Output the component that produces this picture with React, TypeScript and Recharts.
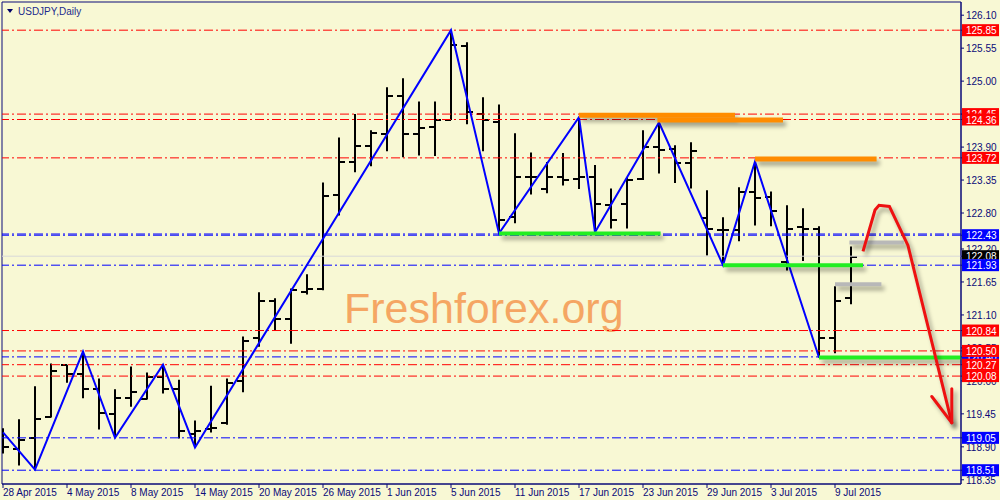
import {
  ComposedChart,
  Bar,
  Line,
  XAxis,
  YAxis,
  ReferenceLine,
  ReferenceArea,
  Customized,
} from "recharts";

// daily USDJPY bars, 28 Apr 2015 .. 10 Jul 2015 (index = trading day)
const opens = [
  119.14, 118.87, 119.04, 119.39, 120.26, 120.12, 119.86, 119.44, 119.72, 119.69,
  120.07, 119.87, 119.12, 119.19, 119.29, 119.99, 120.71, 121.33, 121.04, 121.49,
  121.54, 123.1, 123.65, 123.91, 124.11, 124.75, 124.11, 124.23, 124.36, 125.58,
  124.46, 124.31, 122.73, 123.4, 123.2, 123.4, 123.36, 123.4, 122.93, 122.95,
  123.36, 123.9, 123.86, 123.63, 122.71, 122.51, 122.51, 123.15, 123.06, 121.98,
  122.56, 122.53, 120.71, 121.38,
];
const highs = [
  119.21, 119.36, 119.91, 120.29, 120.27, 120.49, 120.04, 119.86, 120.24, 120.14,
  120.27, 120.02, 119.34, 119.92, 120.04, 120.74, 121.48, 121.38, 121.54, 121.78,
  123.31, 124.06, 124.45, 124.18, 124.9, 125.05, 124.66, 124.66, 125.85, 125.65,
  124.73, 124.61, 124.13, 123.81, 123.65, 123.8, 124.4, 123.6, 123.21, 123.4,
  124.18, 124.31, 123.93, 123.98, 123.18, 122.73, 123.23, 123.66, 123.16, 122.93,
  122.88, 122.58, 121.58, 122.24,
];
const lows = [
  118.79, 118.59, 118.52, 119.39, 119.97, 119.71, 119.19, 119.05, 119.57, 119.69,
  119.79, 119.04, 118.89, 119.14, 119.27, 119.81, 120.57, 120.84, 120.62, 121.44,
  121.51, 122.76, 123.48, 123.58, 123.83, 123.73, 123.76, 123.75, 124.35, 124.28,
  123.83, 122.46, 122.63, 123.11, 123.13, 123.26, 123.2, 122.48, 122.54, 122.54,
  123.35, 123.46, 123.3, 123.21, 122.09, 121.93, 122.33, 122.59, 122.58, 121.84,
  122.0, 120.39, 120.46, 121.28,
];
const closes = [
  118.89, 119.02, 119.36, 120.16, 120.12, 119.86, 119.47, 119.72, 119.81, 120.06,
  119.87, 119.17, 119.16, 119.22, 119.96, 120.67, 121.33, 121.03, 121.51, 121.54,
  123.08, 123.65, 123.91, 124.13, 124.76, 124.11, 124.21, 124.36, 125.6, 124.48,
  124.35, 122.69, 123.4, 123.4, 123.4, 123.35, 123.4, 122.95, 122.68, 123.35,
  123.9, 123.85, 123.63, 123.83, 122.54, 122.51, 123.15, 123.05, 122.83, 122.54,
  122.54, 120.71, 121.33, 122.06,
];

const dateLabels = [
  "28 Apr 2015", "4 May 2015", "8 May 2015", "14 May 2015", "20 May 2015",
  "26 May 2015", "1 Jun 2015", "5 Jun 2015", "11 Jun 2015", "17 Jun 2015",
  "23 Jun 2015", "29 Jun 2015", "3 Jul 2015", "9 Jul 2015",
];
const dateTickIdx = [0, 4, 8, 12, 16, 20, 24, 28, 32, 36, 40, 44, 48, 52];

const priceTicks = [
  126.1, 125.55, 125.0, 124.45, 123.9, 123.35, 122.8, 122.2, 121.65, 121.1,
  120.55, 120.0, 119.45, 118.9, 118.35,
];

// zigzag swing points
const zigIdx = [0, 2, 5, 7, 10, 12, 28, 31, 36, 37, 41, 45, 47, 51];
const zigPrice = [
  119.14, 118.52, 120.49, 119.05, 120.27, 118.89, 125.85, 122.46, 124.4, 122.48,
  124.31, 121.93, 123.66, 120.39,
];

// horizontal levels
const redLevels = [125.85, 124.45, 124.36, 123.72, 120.84, 120.5, 120.27, 120.08];
const blueLevels = [122.45, 122.43, 121.93, 120.4, 119.05, 118.51];
const greyLevel = 122.08;

// price tags on the axis (drawn after the plain tick labels)
const tagPrices = [
  124.45, 124.36, 125.85, 123.72, 122.43, 122.08, 121.93, 120.84, 120.4, 120.5,
  120.27, 120.08, 119.05, 118.51,
];
const tagColors = [
  "#FF0000", "#FF0000", "#FF0000", "#FF0000", "#0000FF", "#000000", "#0000FF",
  "#FF0000", "#0000FF", "#FF0000", "#FF0000", "#FF0000", "#0000FF", "#0000FF",
];

// drawn segments: [from index, to index, price]
const orangeSegs = [
  [36, 45.75, 124.43],
  [40.9, 48.75, 124.35],
  [47, 54.6, 123.7],
];
const greenSegs = [
  [31, 41.1, 122.46],
  [45, 53.75, 121.93],
  [51, 59.875, 120.39],
];
const greySegs = [
  [52.9, 56.3, 122.31],
  [52, 54.9, 121.61],
];

// hand drawn arrow
const arrowIdx = [53.75, 54.5, 54.75, 55.4, 56.56, 59.3];
const arrowPrice = [122.16, 122.85, 122.93, 122.91, 122.26, 119.3];
const wingA = [[58.05, 119.74], [59.3, 119.3]];
const wingB = [[59.3, 119.87], [59.3, 119.3]];

const X_DOMAIN = [-0.0625, 59.875];
const Y_DOMAIN = [118.28, 126.32];
const NAVY = "#0A0A78";
const FONT = "'Liberation Sans', Arial, sans-serif";
const DASHDOT = "9 3 2 3";

const bars = opens.map((o, i) => ({ x: i, o, h: highs[i], l: lows[i], c: closes[i] }));
const zigData = zigIdx.map((x, i) => ({ x, p: zigPrice[i] }));
const arrowData = arrowIdx.map((x, i) => ({ x, p: arrowPrice[i] }));
const axisTicks = [...priceTicks, ...tagPrices];

const OhlcShape = (props: any) => {
  const { x, y, width, height, payload } = props;
  const top = Math.min(y, y + height);
  const h = Math.abs(height);
  const cx = Math.round(x + width / 2);
  const range = payload.h - payload.l || 1;
  const yo = Math.round(top + ((payload.h - payload.o) / range) * h);
  const yc = Math.round(top + ((payload.h - payload.c) / range) * h);
  return (
    <g stroke="#000" strokeWidth={2}>
      <line x1={cx} x2={cx} y1={top} y2={top + h} />
      <line x1={cx - 6} x2={cx} y1={yo} y2={yo} />
      <line x1={cx} x2={cx + 6} y1={yc} y2={yc} />
    </g>
  );
};

const DateTick = (props: any) => {
  const { x, y, payload } = props;
  const k = dateTickIdx.indexOf(payload.value);
  return (
    <text x={x} y={y + 6} textAnchor="start" fill={NAVY} fontSize={10} fontFamily={FONT}>
      {k >= 0 ? dateLabels[k] : ""}
    </text>
  );
};

const PriceTick = (props: any) => {
  const { x, y, payload, index } = props;
  const v = Number(payload.value);
  const t = index - priceTicks.length;
  if (t >= 0) {
    const left = x - 4;
    return (
      <g>
        <rect x={left} y={y - 6} width={37} height={12} fill={tagColors[t]} />
        <text x={left + 4} y={y + 4} fill="#fff" fontSize={10} fontFamily={FONT}>
          {v.toFixed(2)}
        </text>
      </g>
    );
  }
  return (
    <text x={x} y={y + 4} textAnchor="start" fill={NAVY} fontSize={10} fontFamily={FONT}>
      {v.toFixed(2)}
    </text>
  );
};

const Overlay = () => (
  <g>
    <path d="M7 9 L13 9 L10 13 Z" fill="#000066" />
    <text x={18} y={15} fill="#1c2a8c" fontSize={10} fontFamily={FONT}>
      USDJPY,Daily
    </text>
    <text x={344} y={323} fill="#F5A663" fontSize={43} fontFamily={FONT}>
      Freshforex.org
    </text>
  </g>
);

export default function App() {
  return (
    <div style={{ position: "absolute", left: 0, top: 0, width: 1000, height: 500, background: "#F8F8D4" }}>
      <style>{`.shd { filter: drop-shadow(3px 4px 2px rgba(0,0,0,0.35)); }`}</style>
      <ComposedChart width={1000} height={500} data={bars} margin={{ top: 2, right: 0, bottom: 0, left: 2 }}>
        <Customized component={Overlay} />
        <XAxis
          dataKey="x"
          type="number"
          domain={X_DOMAIN}
          allowDataOverflow
          ticks={dateTickIdx}
          interval={0}
          height={16}
          tickSize={4}
          stroke={NAVY}
          tick={<DateTick />}
        />
        <YAxis
          orientation="right"
          type="number"
          domain={Y_DOMAIN}
          allowDataOverflow
          ticks={axisTicks}
          interval={0}
          width={39}
          tickSize={3}
          tickMargin={2}
          stroke={NAVY}
          tick={<PriceTick />}
        />
        <ReferenceArea
          x1={X_DOMAIN[0]}
          x2={X_DOMAIN[1]}
          y1={Y_DOMAIN[0]}
          y2={Y_DOMAIN[1]}
          fill="none"
          fillOpacity={0}
          stroke={NAVY}
        />
        {redLevels.map((p) => (
          <ReferenceLine key={`r${p}`} y={p} stroke="#FF0000" strokeDasharray={DASHDOT} />
        ))}
        {blueLevels.map((p) => (
          <ReferenceLine key={`b${p}`} y={p} stroke="#0000FF" strokeDasharray={DASHDOT} />
        ))}
        <ReferenceLine y={greyLevel} stroke="#D8D8D8" />
        <Bar dataKey={(d: any) => [d.l, d.h]} barSize={2} shape={<OhlcShape />} isAnimationActive={false} />
        <Line
          data={zigData}
          dataKey="p"
          type="linear"
          stroke="#0000FF"
          strokeWidth={2}
          dot={false}
          isAnimationActive={false}
        />
        {orangeSegs.map(([a, b, p], i) => (
          <ReferenceLine
            key={`o${i}`}
            className="shd"
            segment={[{ x: a, y: p }, { x: b, y: p }]}
            stroke="#FF8C00"
            strokeWidth={5}
          />
        ))}
        {greenSegs.map(([a, b, p], i) => (
          <ReferenceLine
            key={`g${i}`}
            className="shd"
            segment={[{ x: a, y: p }, { x: b, y: p }]}
            stroke="#22EE22"
            strokeWidth={4}
          />
        ))}
        {greySegs.map(([a, b, p], i) => (
          <ReferenceLine
            key={`s${i}`}
            className="shd"
            segment={[{ x: a, y: p }, { x: b, y: p }]}
            stroke="#B8B8B8"
            strokeWidth={4}
          />
        ))}
        <Line
          className="shd"
          data={arrowData}
          dataKey="p"
          type="linear"
          stroke="#EE1111"
          strokeWidth={3}
          dot={false}
          isAnimationActive={false}
        />
        {[wingA, wingB].map((w, i) => (
          <ReferenceLine
            key={`w${i}`}
            className="shd"
            segment={[{ x: w[0][0], y: w[0][1] }, { x: w[1][0], y: w[1][1] }]}
            stroke="#EE1111"
            strokeWidth={3}
            strokeLinecap="round"
          />
        ))}
      </ComposedChart>
    </div>
  );
}
